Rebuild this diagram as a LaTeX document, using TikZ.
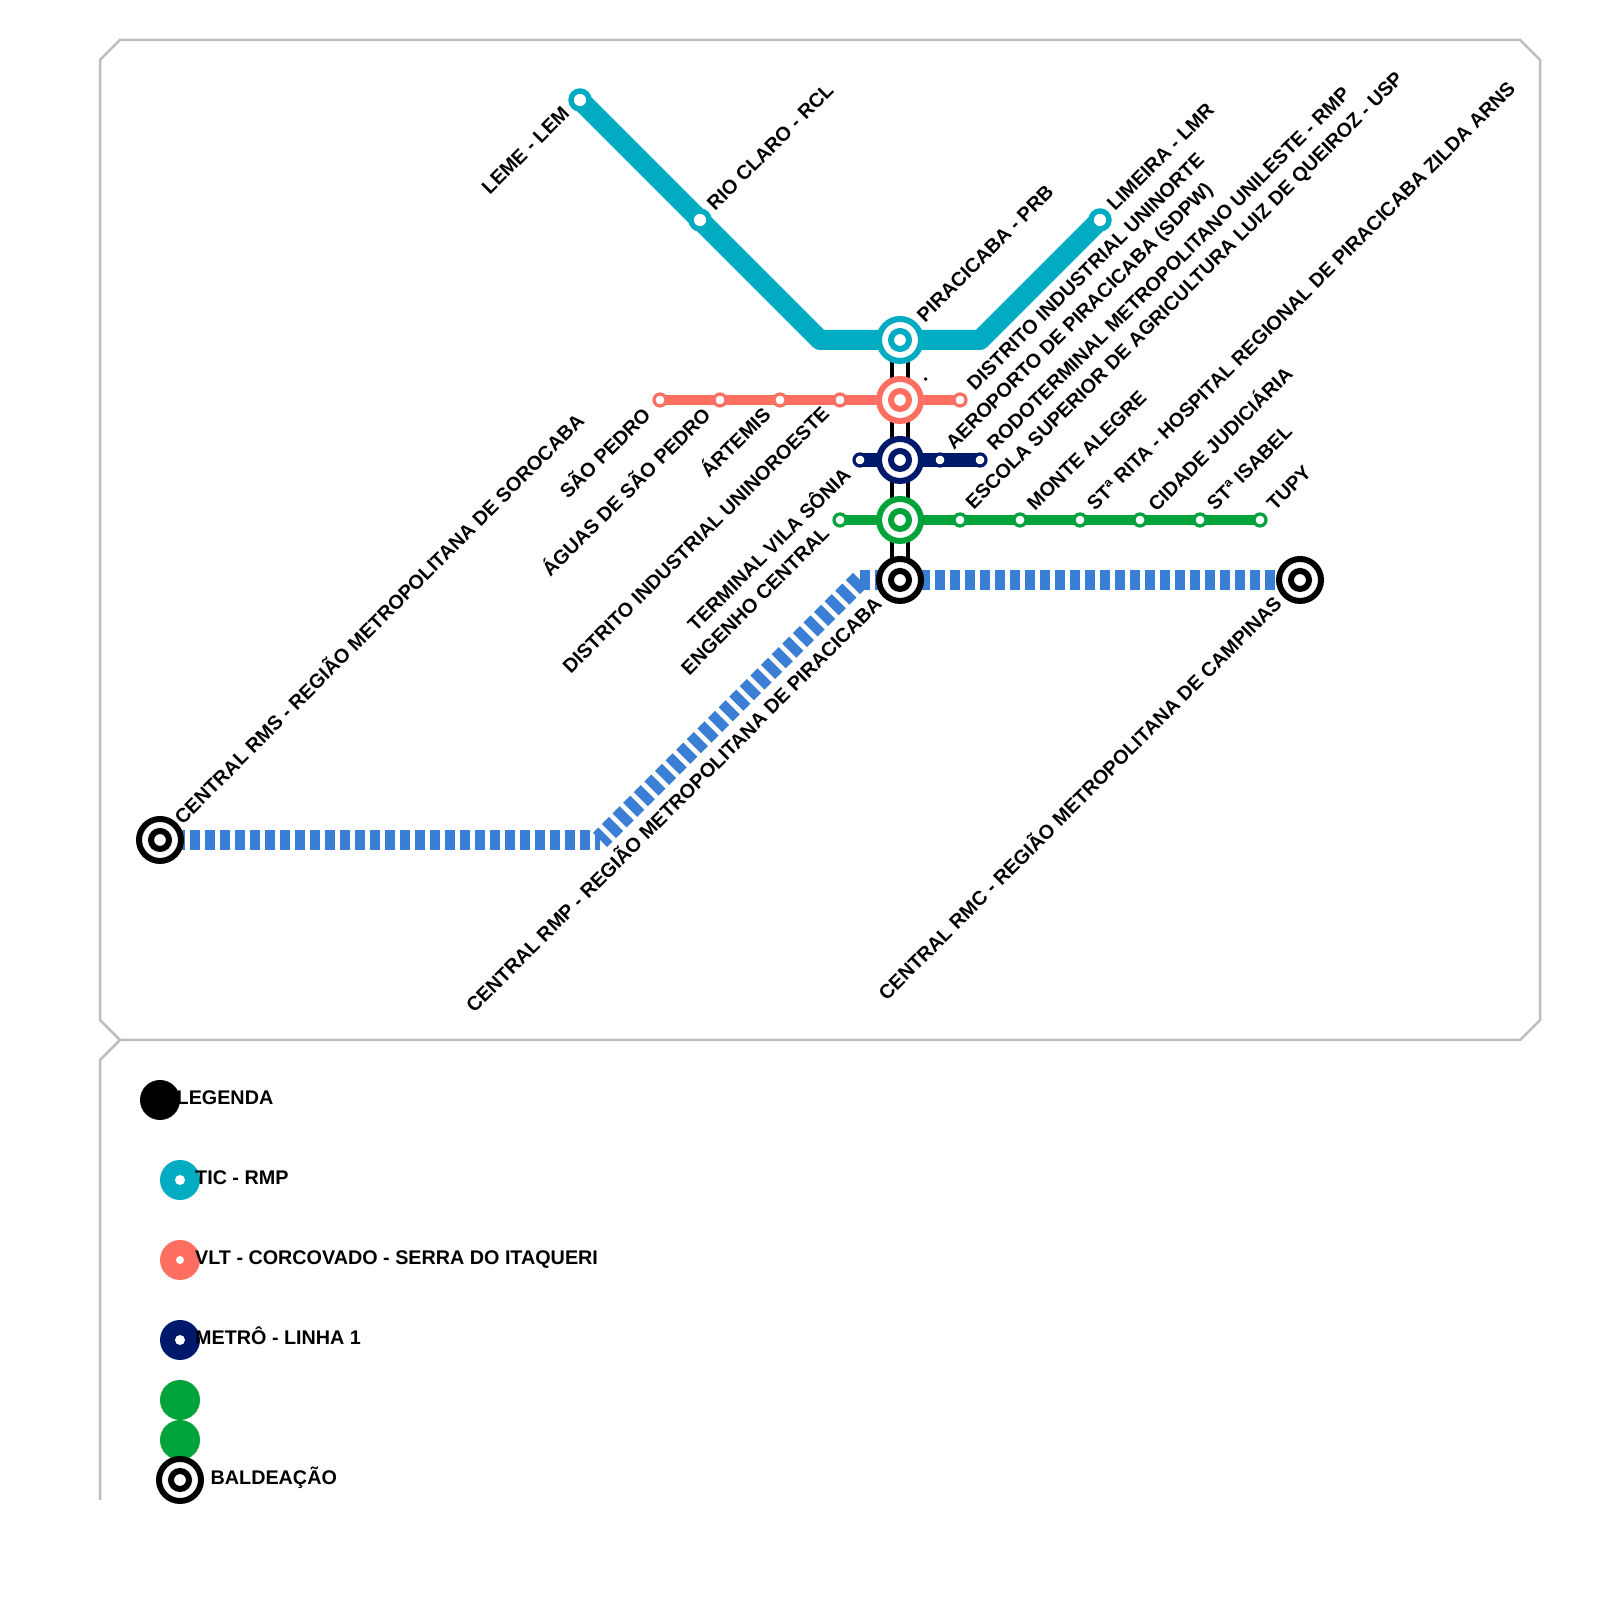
\documentclass[tikz,border=0pt]{standalone}
\usepackage{fontspec}
\setmainfont{Liberation Sans}
\usetikzlibrary{backgrounds}
\definecolor{ticcol}{HTML}{00ACC1}
\definecolor{vltcol}{HTML}{FF6F61}
\definecolor{metcol}{HTML}{001A6B}
\definecolor{grncol}{HTML}{00A23A}
\definecolor{blucol}{HTML}{3A7FD5}
\definecolor{frmcol}{HTML}{BEBEBE}
\tikzset{
  txt/.style={font=\fontsize{5.62}{6.5}\selectfont\bfseries,inner sep=0pt},
  labr/.style={txt,rotate=45,anchor=west,xshift=.16cm,yshift=.02cm},
  labl/.style={txt,rotate=45,anchor=east,xshift=-.165cm,yshift=.03cm},
  hubr/.style={txt,rotate=45,anchor=west,xshift=.29cm,yshift=.01cm},
  hubl/.style={txt,rotate=45,anchor=east,xshift=-.29cm,yshift=.03cm},
  hub/.style={circle,inner sep=0pt,minimum size=.42cm,draw=#1,line width=.06cm,fill=white,
    path picture={\draw[#1,line width=.06cm] (path picture bounding box.center) circle (.09);}},
  stn/.style={circle,inner sep=0pt,minimum size=.12cm,draw=#1,line width=.032cm,fill=white},
  bigstn/.style={circle,inner sep=0pt,minimum size=.18cm,draw=ticcol,line width=.054cm,fill=white},
  dot/.style={circle,inner sep=0pt,minimum size=.1cm,fill=white},
  key/.style={circle,inner sep=0pt,minimum size=.4cm,fill=#1},
  rail/.style={draw=#1,line join=round},
  frame/.style={draw=frmcol,line width=.025cm},
}
\begin{document}
\begin{tikzpicture}
  \useasboundingbox (0,0) rectangle (16,16);
  % TIC
  \node[bigstn] (lem) at (5.8,15) {};
  \node[bigstn] (rcl) at (7,13.8) {};
  \coordinate (ticw) at (8.2,12.6);
  \node[hub=ticcol] (prb) at (9,12.6) {};
  \coordinate (tice) at (9.8,12.6);
  \node[bigstn] (lmr) at (11,13.8) {};
  % VLT
  \node[stn=vltcol] (spd) at (6.6,12) {};
  \node[stn=vltcol] (asp) at (7.2,12) {};
  \node[stn=vltcol] (art) at (7.8,12) {};
  \node[stn=vltcol] (uno) at (8.4,12) {};
  \node[hub=vltcol] (vlt) at (9,12) {};
  \node[stn=vltcol] (unn) at (9.6,12) {};
  % metro
  \node[stn=metcol] (tvs) at (8.6,11.4) {};
  \node[hub=metcol] (met) at (9,11.4) {};
  \node[stn=metcol] (sdp) at (9.4,11.4) {};
  \node[stn=metcol] (rod) at (9.8,11.4) {};
  % verde
  \node[stn=grncol] (eng) at (8.4,10.8) {};
  \node[hub=grncol] (grn) at (9,10.8) {};
  \node[stn=grncol] (usp) at (9.6,10.8) {};
  \node[stn=grncol] (mal) at (10.2,10.8) {};
  \node[stn=grncol] (sri) at (10.8,10.8) {};
  \node[stn=grncol] (cjd) at (11.4,10.8) {};
  \node[stn=grncol] (sis) at (12,10.8) {};
  \node[stn=grncol] (tup) at (12.6,10.8) {};
  % centrais
  \node[hub=black] (rms) at (1.6,7.6) {};
  \coordinate (rmsb) at (6,7.6);
  \coordinate (rmpb) at (8.6,10.2);
  \node[hub=black] (rmp) at (9,10.2) {};
  \node[hub=black] (rmc) at (13,10.2) {};
  \begin{scope}[on background layer]
    \draw[frame] (1.2,15.6) -- (15.2,15.6) -- (15.4,15.4) -- (15.4,5.8) -- (15.2,5.6) -- (1.2,5.6) -- (1,5.8) -- (1,15.4) -- cycle;
    \draw[frame] (1.2,5.6) -- (1,5.4) -- (1,1);
    \draw[line width=.04cm] ([xshift=-.08cm]prb.center) -- ([xshift=-.08cm]rmp.center);
    \draw[line width=.04cm] ([xshift=.08cm]prb.center) -- ([xshift=.08cm]rmp.center);
    \draw[blucol,line width=.2cm,dash pattern=on .1cm off .05cm] (rms.center) -- (rmsb);
    \draw[blucol,line width=.2cm,dash pattern=on .1cm off .05cm] (rmpb) -- (rmsb);
    \draw[blucol,line width=.2cm,dash pattern=on .1cm off .05cm] (rmpb) -- (rmc.center);
    \draw[rail=ticcol,line width=.2cm] (lem.center) -- (rcl.center) -- (ticw) -- (tice) -- (lmr.center);
    \draw[rail=vltcol,line width=.1cm] (spd.center) -- (unn.center);
    \draw[rail=metcol,line width=.133cm] (tvs.center) -- (rod.center);
    \draw[rail=grncol,line width=.1cm] (eng.center) -- (tup.center);
  \end{scope}
  % nomes
  \node[labl] (tlem) at (lem) {LEME - LEM};
  \node[labr] (trcl) at (rcl) {RIO CLARO - RCL};
  \node[hubr] (tprb) at (prb) {PIRACICABA - PRB};
  \node[labr] (tlmr) at (lmr) {LIMEIRA - LMR};
  \node[labl] (tspd) at (spd) {SÃO PEDRO};
  \node[labl] (tasp) at (asp) {ÁGUAS DE SÃO PEDRO};
  \node[labl] (tart) at (art) {ÁRTEMIS};
  \node[labl] (tuno) at (uno) {DISTRITO INDUSTRIAL UNINOROESTE};
  \node[hubr,yshift=-.05cm] (tvlt) at (vlt) {.};
  \node[labr] (tunn) at (unn) {DISTRITO INDUSTRIAL UNINORTE};
  \node[labl] (ttvs) at (tvs) {TERMINAL VILA SÔNIA};
  \node[labr] (tsdp) at (sdp) {AEROPORTO DE PIRACICABA (SDPW)};
  \node[labr] (trod) at (rod) {RODOTERMINAL METROPOLITANO UNILESTE - RMP};
  \node[labl] (teng) at (eng) {ENGENHO CENTRAL};
  \node[labr] (tusp) at (usp) {ESCOLA SUPERIOR DE AGRICULTURA LUIZ DE QUEIROZ - USP};
  \node[labr] (tmal) at (mal) {MONTE ALEGRE};
  \node[labr] (tsri) at (sri) {STª RITA - HOSPITAL REGIONAL DE PIRACICABA ZILDA ARNS};
  \node[labr] (tcjd) at (cjd) {CIDADE JUDICIÁRIA};
  \node[labr] (tsis) at (sis) {STª ISABEL};
  \node[labr] (ttup) at (tup) {TUPY};
  \node[hubr,xshift=-.03cm,yshift=.02cm] (trms) at (rms) {CENTRAL RMS - REGIÃO METROPOLITANA DE SOROCABA};
  \node[hubl] (trmp) at (rmp) {CENTRAL RMP - REGIÃO METROPOLITANA DE PIRACICABA};
  \node[hubl] (trmc) at (rmc) {CENTRAL RMC - REGIÃO METROPOLITANA DE CAMPINAS};
  % legenda
  \node[key=black] (kleg) at (1.6,5) {};
  \node[key=ticcol] (ktic) at (1.8,4.2) {};
  \node[dot] at (ktic) {};
  \node[key=vltcol] (kvlt) at (1.8,3.4) {};
  \node[dot,minimum size=.08cm] at (kvlt) {};
  \node[key=metcol] (kmet) at (1.8,2.6) {};
  \node[dot] at (kmet) {};
  \node[key=grncol] (kgr1) at (1.8,2) {};
  \node[key=grncol] (kgr2) at (1.8,1.6) {};
  \node[hub=black] (kbal) at (1.8,1.2) {};
  \node[txt,anchor=base west] (tleg) at (1.76,4.95) {LEGENDA};
  \node[txt,anchor=base west] (ttic) at (1.945,4.15) {TIC - RMP};
  \node[txt,anchor=base west] (tvl2) at (1.945,3.35) {VLT - CORCOVADO - SERRA DO ITAQUERI};
  \node[txt,anchor=base west] (tme2) at (1.945,2.55) {METRÔ - LINHA 1};
  \node[txt,anchor=base west] (tbal) at (2.1,1.15) {BALDEAÇÃO};
\end{tikzpicture}
\end{document}
